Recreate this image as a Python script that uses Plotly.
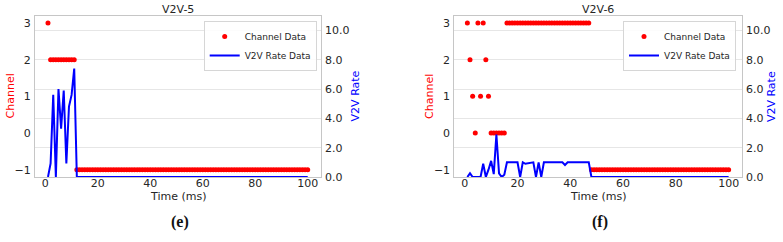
import plotly.graph_objects as go

# ---- data ----
time_ms = list(range(1, 101))

channel_v2v5 = [3] + [2] * 10 + [-1] * 89
rate_v2v5 = [0.0, 0.93, 5.6, 0.0, 6.0, 3.3, 5.9, 0.93, 4.8, 5.6, 7.4] + [0.0] * 89

channel_v2v6 = [3, 2, 1, 0, 3, 1, 3, 2, 1] + [0] * 6 + [3] * 32 + [-1] * 53
rate_v2v6 = ([0.0, 0.25, 0.0, 0.0, 0.0, 0.0, 0.9, 0.0, 0.5, 1.1,
              0.2, 2.9, 0.25, 0.0, 0.15, 1.0, 1.0, 1.0, 1.0, 1.0,
              0.0, 1.0, 0.9, 0.95, 1.0, 1.0, 0.0, 1.0, 0.0, 1.0,
              1.0, 1.0, 1.0, 1.0, 1.0, 1.0, 1.0, 0.82, 1.0, 1.0,
              1.0, 1.0, 1.0, 1.0, 1.0, 1.0, 1.0] + [0.0] * 53)

panel_titles = ["V2V-5", "V2V-6"]
captions = ["(e)", "(f)"]
x_ticks = [0, 20, 40, 60, 80, 100]
ch_ticks = [-1, 0, 1, 2, 3]
rate_ticks = [0, 2, 4, 6, 8, 10]

W, H = 783, 242
FONT = "DejaVu Sans"
TICKC = "#262626"
SPINE = "#c6c6c6"
GRID = "#e6e6e6"

def px(x):
    return x / W

def py(y):
    return 1 - y / H

ydom = [py(177.0), py(15.7)]
xdoms = [[px(35.0), px(320.7)], [px(454.3), px(741.7)]]

fig = go.Figure()

datasets = [(channel_v2v5, rate_v2v5), (channel_v2v6, rate_v2v6)]
for i, (ch, rt) in enumerate(datasets):
    xa = "x" if i == 0 else "x2"
    ya_ch = "y" if i == 0 else "y3"
    ya_rt = "y2" if i == 0 else "y4"
    lg = "legend" if i == 0 else "legend2"
    fig.add_trace(go.Scatter(x=time_ms, y=ch, mode="markers", name="Channel Data",
                             marker=dict(color="#ff0000", size=5),
                             xaxis=xa, yaxis=ya_ch, legend=lg))
    fig.add_trace(go.Scatter(x=time_ms, y=rt, mode="lines", name="V2V Rate Data",
                             line=dict(color="#0000ff", width=2),
                             xaxis=xa, yaxis=ya_rt, legend=lg))

tickfont = dict(family=FONT, size=11, color=TICKC)
common_x = dict(range=[-3.95, 104.95], tickvals=x_ticks, showgrid=False, zeroline=False,
                showline=True, linecolor=SPINE, linewidth=1, mirror=True,
                ticks="", tickfont=tickfont, ticklabelstandoff=-4,
                automargin=False)
common_ych = dict(range=[-1.2, 3.2], tickvals=ch_ticks, showgrid=False, zeroline=False,
                  showline=True, linecolor=SPINE, linewidth=1,
                  ticks="", tickfont=tickfont, ticklabelstandoff=1,
                  automargin=False)
common_yrt = dict(range=[0, 11], tickvals=rate_ticks, tickformat=".1f", showgrid=True,
                  gridcolor=GRID, gridwidth=1, zeroline=False, side="right",
                  showline=True, linecolor=SPINE, linewidth=1,
                  ticks="", tickfont=tickfont, ticklabelstandoff=1,
                  automargin=False)

legend_common = dict(xanchor="right", yanchor="top", y=py(21.0),
                     bgcolor="rgba(255,255,255,0.85)", bordercolor="#d6d6d6", borderwidth=1,
                     font=dict(family=FONT, size=9, color=TICKC),
                     itemwidth=30, tracegroupgap=0)

fig.update_layout(
    width=W, height=H, autosize=False,
    margin=dict(l=0, r=0, t=0, b=0, pad=0),
    paper_bgcolor="white", plot_bgcolor="white",
    font=dict(family=FONT, size=11, color=TICKC),
    xaxis=dict(domain=xdoms[0], anchor="y", **common_x),
    yaxis=dict(domain=ydom, anchor="x", **common_ych),
    yaxis2=dict(overlaying="y", anchor="x", **common_yrt),
    xaxis2=dict(domain=xdoms[1], anchor="y3", **common_x),
    yaxis3=dict(domain=ydom, anchor="x2", **common_ych),
    yaxis4=dict(overlaying="y3", anchor="x2", **common_yrt),
    legend=dict(x=px(316.7), **legend_common),
    legend2=dict(x=px(736.0), **legend_common),
    showlegend=True,
)

annotations = []
centers = [(xdoms[0][0] + xdoms[0][1]) / 2, (xdoms[1][0] + xdoms[1][1]) / 2]
left_title_x = [10.0, 429.5]
right_title_x = [355.0, 771.7]
caption_x = [180.0, 600.0]

def label(x, y, text, size=11, color=TICKC, angle=0, family=FONT):
    return dict(x=px(x), y=py(y), xref="paper", yref="paper", text=text,
                showarrow=False, xanchor="center", yanchor="middle",
                textangle=angle, font=dict(family=family, size=size, color=color))

for i in range(2):
    cx = centers[i] * W
    annotations.append(label(cx, 10.0, panel_titles[i]))
    annotations.append(label(cx, 196.0, "Time (ms)"))
    annotations.append(label(left_title_x[i], 96.4, "Channel", color="#ff0000", angle=-90))
    annotations.append(label(right_title_x[i], 96.4, "V2V Rate", color="#0000ff", angle=-90))
    annotations.append(label(caption_x[i], 222.0, "<b>" + captions[i] + "</b>", size=16,
                             color="#111111", family="Liberation Serif"))
fig.update_layout(annotations=annotations)

fig.write_html("out.html", config={"responsive": False})
